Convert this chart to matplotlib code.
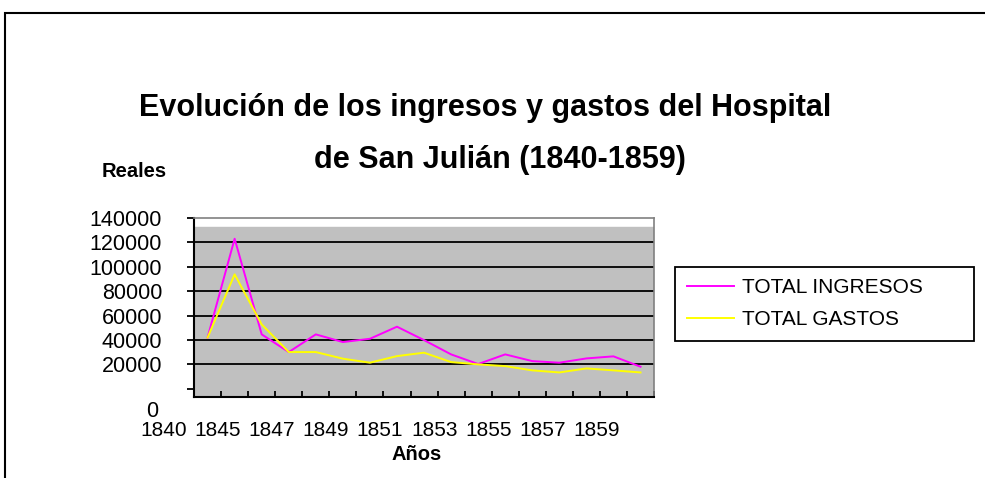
import numpy as np
import matplotlib
matplotlib.use("Agg")
from matplotlib import pyplot as plt
from matplotlib.patches import Rectangle
from matplotlib.transforms import ScaledTranslation

plt.rcParams['font.family'] = ['Liberation Sans', 'DejaVu Sans']

# datos
anios = ["1840", "1844", "1845", "1846", "1847", "1848", "1849", "1850", "1851",
         "1852", "1853", "1854", "1855", "1856", "1857", "1858", "1859"]
ingresos = [42000, 123000, 44600, 30100, 44600, 38300, 41000, 50900, 39900,
            28200, 20300, 28200, 22700, 21400, 24900, 26600, 18100]
gastos = [42000, 93800, 52800, 30100, 30100, 24700, 21400, 26800, 29600,
          21900, 20000, 18600, 15100, 13400, 16700, 15100, 13400]
yticks = [0, 20000, 40000, 60000, 80000, 100000, 120000, 140000]

fig = plt.figure(figsize=(9.85, 4.78), dpi=100)
ax = fig.add_axes([0.197, 0.1695, 0.467, 0.3745])

x = np.arange(len(anios))
ax.set_xlim(-0.5, len(anios) - 0.5)
ax.set_ylim(-6700, 140000)

# fondo gris del area de trazado
ax.axhspan(ax.get_ylim()[0], 132600, color='#c0c0c0', zorder=0)
for v in yticks[1:-1]:
    ax.axhline(v, color='black', lw=1.3, zorder=1)

ax.plot(x, ingresos, color='#ff00ff', lw=1.4, label='TOTAL INGRESOS' + ' ' * 7, zorder=3)
ax.plot(x, gastos, color='#ffff00', lw=1.4, label='TOTAL GASTOS', zorder=3)

# eje x: etiquetas cada dos categorias
ax.set_xticks(x[::2])
ax.set_xticklabels(anios[::2], fontsize=15)
ax.set_xticks(np.arange(len(anios) + 1) - 0.5, minor=True)
ax.tick_params(axis='x', which='major', length=0, pad=17)
ax.tick_params(axis='x', which='minor', direction='in', length=4, width=1.3, color='black')
off = ScaledTranslation(-44 / 100, 0, fig.dpi_scale_trans)
for lab in ax.get_xticklabels():
    lab.set_transform(lab.get_transform() + off)

ax.set_yticks(yticks)
ax.set_yticklabels([str(v) for v in yticks], fontsize=15.5)
ax.tick_params(axis='y', direction='out', length=5, width=1.3, pad=18)
ylabs = ax.get_yticklabels()
ylabs[0].set_transform(ylabs[0].get_transform() + ScaledTranslation(-4 / 100, -20 / 100, fig.dpi_scale_trans))

for s in ['left', 'bottom']:
    ax.spines[s].set_color('black')
    ax.spines[s].set_linewidth(1.5)
for s in ['top', 'right']:
    ax.spines[s].set_color('#808080')
    ax.spines[s].set_linewidth(1.2)

leg = ax.legend(loc='upper left', bbox_to_anchor=(1.0457, 0.726), borderaxespad=0,
                fontsize=15, frameon=True, fancybox=False, edgecolor='black', framealpha=1,
                handlelength=2.3, handletextpad=0.35, borderpad=0.55, labelspacing=0.62)
leg.get_frame().set_linewidth(1.3)

fig.text(485 / 985, 1 - 108 / 478, "Evolución de los ingresos y gastos del Hospital",
         ha='center', va='center', fontsize=22, fontweight='bold')
fig.text(500 / 985, 1 - 160 / 478, "de San Julián (1840-1859)",
         ha='center', va='center', fontsize=22, fontweight='bold')
fig.text(134 / 985, 1 - 172 / 478, "Reales", ha='center', va='center', fontsize=14.5, fontweight='bold')
fig.text(417 / 985, 1 - 455 / 478, "Años", ha='center', va='center', fontsize=14.5, fontweight='bold')

# marco exterior del grafico
fig.patches.append(Rectangle((5 / 985, -0.1), 1.1, 1.1 - 13 / 478,
                             transform=fig.transFigure, fill=False, edgecolor='black', lw=1.5))

fig.savefig("out.png", dpi=100)
